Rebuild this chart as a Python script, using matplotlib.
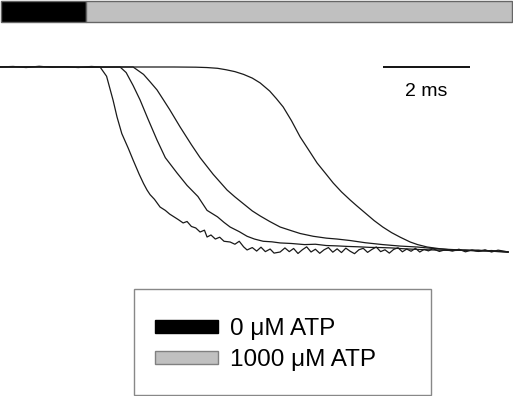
import numpy as np
import matplotlib
matplotlib.use('Agg')
import matplotlib.pyplot as plt
from matplotlib.patches import Patch, Rectangle

plt.rcParams['font.family'] = ['Liberation Sans', 'DejaVu Sans']

# time in ms, signal normalised (1 = baseline before the drop)
t1 = [0.0, 0.3, 0.6, 0.9, 1.2, 1.5, 1.8, 2.1, 2.3, 2.45, 2.6, 2.69, 2.8, 2.95, 3.06, 3.2, 3.3, 3.38,
      3.45, 3.55, 3.68, 3.8, 3.9, 4.0, 4.1, 4.21, 4.3, 4.4, 4.5, 4.6, 4.7, 4.76, 4.85, 4.95, 5.05,
      5.15, 5.29, 5.4, 5.5, 5.6, 5.68, 5.8, 5.9, 6.0, 6.1, 6.21, 6.3, 6.44, 6.55, 6.65, 6.75, 6.85,
      6.95, 7.05, 7.15, 7.25, 7.35, 7.45, 7.55, 7.65, 7.75, 7.85, 7.95, 8.05, 8.15, 8.25, 8.35, 8.45,
      8.55, 8.65, 8.75, 8.85, 8.95, 9.05, 9.15, 9.25, 9.35, 9.45, 9.55, 9.65, 9.75, 9.85, 9.95, 10.1,
      10.25, 10.4, 10.55, 10.7, 10.85, 11.0, 11.15, 11.3, 11.45, 11.6, 11.68]
y1 = [1.0, 1.003, 0.997, 1.004, 0.998, 1.002, 0.997, 1.003, 1.0, 0.95, 0.82, 0.73, 0.64, 0.56, 0.497,
      0.42, 0.37, 0.335, 0.31, 0.285, 0.243, 0.225, 0.205, 0.19, 0.175, 0.157, 0.165, 0.138, 0.13,
      0.108, 0.118, 0.081, 0.092, 0.07, 0.08, 0.058, 0.054, 0.042, 0.058, 0.028, 0.011, 0.024, 0.005,
      0.026, 0.002, 0.016, -0.006, 0.0, 0.022, 0.002, 0.019, -0.008, 0.012, 0.028, 0.0, 0.015,
      -0.007, 0.012, 0.024, -0.001, 0.017, -0.003, 0.021, 0.004, -0.009, 0.012, 0.02, -0.002, 0.014,
      0.027, 0.002, 0.012, -0.006, 0.014, 0.023, 0.001, 0.016, 0.004, 0.02, 0.0, 0.014, 0.006, 0.018,
      0.003, 0.013, 0.005, 0.015, 0.001, 0.011, 0.003, 0.012, 0.0, 0.01, 0.004, 0.0]

t2 = [0.0, 1.0, 2.0, 2.76, 2.9, 3.06, 3.22, 3.4, 3.61, 3.8, 4.07, 4.3, 4.55, 4.76, 5.0, 5.15, 5.29,
      5.5, 5.68, 5.85, 6.05, 6.25, 6.44, 6.7, 7.0, 7.25, 7.5, 7.75, 8.0, 8.25, 8.5, 8.75, 9.0, 9.25,
      9.5, 9.82, 10.1, 10.4, 10.7, 11.0, 11.3, 11.68]
y2 = [1.0, 1.002, 0.998, 1.0, 0.97, 0.9, 0.822, 0.72, 0.605, 0.51, 0.427, 0.36, 0.3, 0.225, 0.19,
      0.16, 0.135, 0.11, 0.085, 0.07, 0.058, 0.055, 0.049, 0.046, 0.04, 0.042, 0.035, 0.033, 0.03,
      0.028, 0.025, 0.024, 0.022, 0.018, 0.015, 0.012, 0.01, 0.008, 0.01, 0.004, 0.008, 0.0]

t3 = [0.0, 1.5, 3.06, 3.3, 3.45, 3.61, 3.75, 3.9, 4.14, 4.4, 4.6, 4.9, 5.22, 5.4, 5.6, 5.8, 5.98,
      6.2, 6.44, 6.7, 6.9, 7.2, 7.5, 7.75, 8.05, 8.4, 8.8, 9.2, 9.59, 10.0, 10.5, 11.0, 11.68]
y3 = [1.0, 1.0, 1.0, 0.96, 0.92, 0.876, 0.825, 0.77, 0.676, 0.58, 0.51, 0.42, 0.335, 0.298, 0.26,
      0.222, 0.195, 0.165, 0.135, 0.115, 0.1, 0.085, 0.075, 0.07, 0.062, 0.05, 0.04, 0.032, 0.027,
      0.018, 0.012, 0.008, 0.0]

t4 = [0.0, 2.0, 4.0, 4.5, 4.76, 5.0, 5.2, 5.4, 5.6, 5.8, 5.98, 6.2, 6.35, 6.51, 6.7, 6.9, 7.1, 7.29,
      7.5, 7.66, 7.85, 8.05, 8.2, 8.4, 8.6, 8.8, 9.0, 9.2, 9.43, 9.6, 9.82, 10.1, 10.34, 10.7, 11.0,
      11.3, 11.68]
y4 = [1.0, 1.0, 1.0, 0.999, 0.997, 0.993, 0.985, 0.975, 0.96, 0.94, 0.914, 0.87, 0.83, 0.784, 0.71,
      0.622, 0.55, 0.481, 0.42, 0.373, 0.325, 0.281, 0.25, 0.21, 0.17, 0.135, 0.105, 0.08, 0.054,
      0.04, 0.027, 0.018, 0.012, 0.008, 0.01, 0.004, 0.0]

traces = [(t1, y1), (t2, y2), (t3, y3), (t4, y4)]

# solution bar on top (ms)
stim_start = [0.02, 1.98]
stim_end = [1.98, 11.77]
stim_labels = ['0 μM ATP', '1000 μM ATP']
stim_colors = ['black', '#c0c0c0']

scale_ms = 2

px_per_ms = 43.5
px_per_unit = 185.0
fig = plt.figure(figsize=(5.13, 3.96), dpi=100)
ax = fig.add_axes([0, 0, 1, 1])
ax.set_xlim(0, 513 / px_per_ms)
ax.set_ylim((252 - 396) / px_per_unit, 252 / px_per_unit)
ax.axis('off')

for t, y in traces:
    ax.plot(t, y, color='#1a1a1a', lw=0.9)

widths = np.array(stim_end) - np.array(stim_start)
ax.barh(1.30, widths, left=stim_start, height=0.114, color=stim_colors,
        edgecolor='#666666', linewidth=1.0)

# scale bar
ax.plot([8.80, 8.80 + scale_ms], [1.0, 1.0], color='black', lw=1.3, solid_capstyle='butt')
ax.text(8.80 + scale_ms / 2, 0.87, '%d ms' % scale_ms, ha='center', va='center', fontsize=14)

# legend box
ax.add_patch(Rectangle((134 / px_per_ms, (252 - 395) / px_per_unit), 297 / px_per_ms,
                       106 / px_per_unit, facecolor='white', edgecolor='#888888', lw=1.0))
handles = [Patch(facecolor=stim_colors[0], edgecolor='black'),
           Patch(facecolor=stim_colors[1], edgecolor='#808080')]
fig.legend(handles, stim_labels, loc='upper left', bbox_to_anchor=(155 / 513, 1 - 318 / 396),
           frameon=False, fontsize=17.5, handlelength=2.59, handleheight=0.41,
           handletextpad=0.49, labelspacing=0.38, borderpad=0, borderaxespad=0)

fig.savefig('out.png', dpi=100)
